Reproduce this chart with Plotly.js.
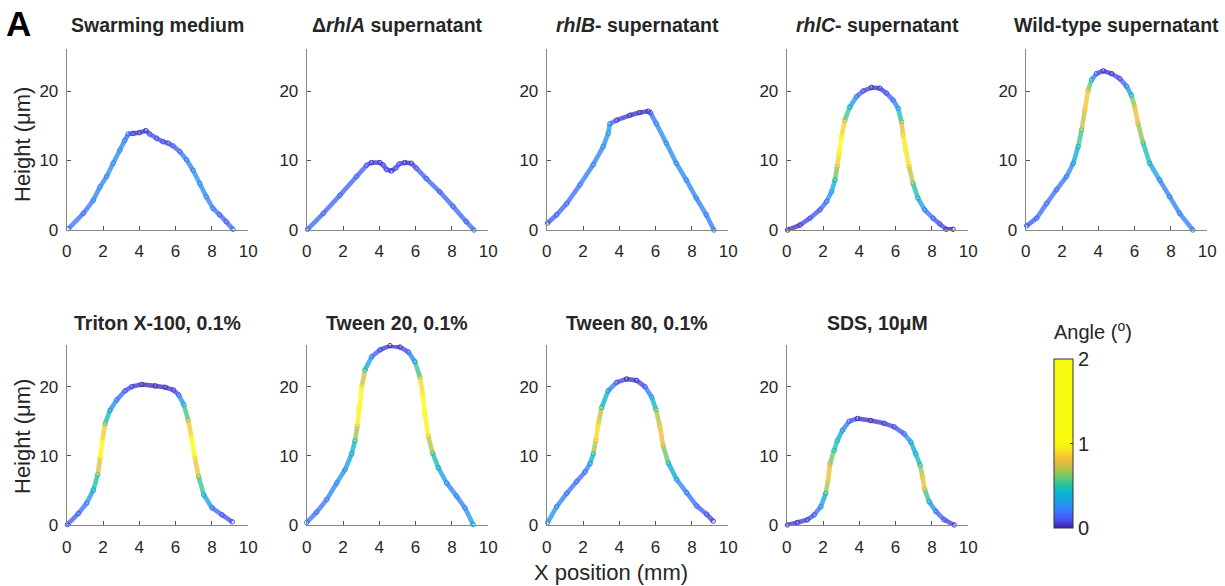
<!DOCTYPE html>
<html>
<head>
<meta charset="utf-8">
<script src="https://cdn.plot.ly/plotly-3.0.1.min.js"></script>
<style>html,body{margin:0;padding:0;background:#fff;}#chart{width:1225px;height:586px;}</style>
</head>
<body>
<div id="chart"></div>
<script>
// ---------- data ----------
var panelTitles = ["Swarming medium", "\u0394<i>rhlA</i> supernatant", "<i>rhlB</i>- supernatant",
  "<i>rhlC</i>- supernatant", "Wild-type supernatant", "Triton X-100, 0.1%", "Tween 20, 0.1%",
  "Tween 80, 0.1%", "SDS, 10\u03bcM"];
var xTicks = [0, 2, 4, 6, 8, 10];
var yTicks = [0, 10, 20];
var cbTicks = [0, 1, 2];

var swarmX = [0.1,0.92,1.47,1.83,2.2,2.56,2.93,3.2,3.39,3.66,4.0,4.36,4.58,4.95,5.31,5.59,5.86,6.23,6.6,6.96,7.33,7.69,8.06,8.42,8.79,9.16];
var swarmY = [0.2,2.4,4.3,6.2,7.7,9.6,11.5,12.9,13.8,13.9,14.0,14.3,13.8,13.2,12.7,12.5,12.1,11.3,10.1,8.6,6.7,4.8,3.1,2.2,1.2,0.1];
var swarmA = [0.2,0.18,0.22,0.25,0.24,0.26,0.26,0.24,0.14,0.05,0.05,0.05,0.12,0.1,0.08,0.08,0.13,0.18,0.22,0.26,0.27,0.26,0.22,0.15,0.15,0.16];

var rhlAX = [0.05,0.92,1.83,2.75,3.3,3.57,4.03,4.21,4.4,4.67,4.9,5.09,5.4,5.77,6.04,6.59,7.33,8.06,8.79,9.21];
var rhlAY = [0.1,2.4,5.0,7.7,9.3,9.7,9.7,9.35,8.7,8.5,8.9,9.5,9.7,9.6,8.9,7.4,5.5,3.4,1.2,0.0];
var rhlAA = [0.16,0.15,0.15,0.15,0.13,0.05,0.03,0.1,0.1,0.03,0.1,0.1,0.03,0.05,0.13,0.15,0.15,0.16,0.16,0.17];

var rhlBX = [0.05,0.55,1.1,1.83,2.56,3.11,3.39,3.48,3.85,4.58,5.13,5.59,5.71,6.04,6.59,7.14,7.69,8.24,8.79,9.21];
var rhlBY = [1.0,2.2,3.8,6.5,9.4,12.0,13.9,15.3,15.8,16.5,16.9,17.1,16.9,15.3,12.5,9.6,7.2,4.6,2.2,0.0];
var rhlBA = [0.12,0.14,0.17,0.2,0.22,0.25,0.3,0.27,0.05,0.04,0.03,0.02,0.1,0.25,0.27,0.26,0.25,0.24,0.22,0.2];

var rhlCX = [0.05,0.73,1.28,1.83,2.2,2.47,2.66,2.78,2.89,3.02,3.2,3.48,3.85,4.21,4.67,5.13,5.49,5.86,6.14,6.32,6.41,6.56,6.74,6.96,7.23,7.6,8.06,8.42,8.79,9.16];
var rhlCY = [0.0,0.7,1.7,2.9,4.1,5.5,7.2,9.1,11.0,13.4,15.8,17.7,19.2,20.0,20.5,20.4,19.7,18.7,17.5,15.6,13.7,11.5,9.1,6.7,4.6,2.9,1.7,0.9,0.1,0.1];
var rhlCA = [0.02,0.05,0.1,0.13,0.2,0.3,0.48,0.75,1.0,1.05,0.7,0.38,0.2,0.1,0.03,0.05,0.12,0.17,0.3,0.65,0.9,1.0,0.85,0.6,0.4,0.25,0.14,0.1,0.05,0.02];

var wildX = [0.05,0.6,1.15,1.7,2.25,2.62,2.89,3.08,3.26,3.44,3.63,3.9,4.27,4.73,5.18,5.55,5.82,6.01,6.19,6.47,6.83,7.38,7.93,8.48,9.21];
var wildY = [0.6,1.7,3.8,5.8,7.7,9.6,12.0,14.4,17.3,20.1,21.6,22.5,22.9,22.5,21.8,20.7,19.4,17.7,15.3,12.5,9.6,7.2,4.8,2.4,0.0];
var wildA = [0.1,0.16,0.2,0.18,0.2,0.28,0.45,0.62,0.85,0.8,0.35,0.12,0.03,0.05,0.1,0.2,0.4,0.85,0.75,0.55,0.4,0.24,0.23,0.23,0.2];

var tritonX = [0.04,0.64,1.1,1.47,1.71,1.84,1.97,2.12,2.39,2.76,3.22,3.59,4.14,4.88,5.43,5.89,6.17,6.45,6.69,6.87,7.05,7.27,7.55,8.01,8.56,9.12];
var tritonY = [0.1,1.7,3.2,5.1,7.3,9.7,12.3,14.7,16.6,18.1,19.4,20.0,20.3,20.1,19.9,19.5,18.8,17.4,15.2,12.8,9.9,7.0,4.4,2.5,1.5,0.5];
var tritonA = [0.1,0.15,0.22,0.35,0.6,0.95,1.1,0.6,0.33,0.2,0.12,0.06,0.02,0.02,0.03,0.06,0.15,0.4,0.7,1.0,1.0,0.65,0.4,0.2,0.1,0.08];

var tw20X = [0.0,0.55,1.1,1.65,2.11,2.48,2.66,2.79,2.9,3.03,3.21,3.58,4.04,4.59,5.14,5.6,5.96,6.24,6.39,6.51,6.7,6.94,7.25,7.71,8.26,8.72,9.17];
var tw20Y = [0.4,1.9,3.7,6.1,8.0,10.3,12.2,14.3,17.0,19.9,22.4,24.3,25.3,25.9,25.7,25.0,23.6,21.4,19.0,16.2,12.8,10.4,8.3,6.1,4.2,2.5,0.1];
var tw20A = [0.2,0.18,0.22,0.25,0.28,0.35,0.5,0.85,1.1,1.0,0.5,0.2,0.08,0.02,0.05,0.12,0.35,0.7,1.1,1.1,0.85,0.55,0.38,0.27,0.22,0.25,0.3];

var tw80X = [0.05,0.55,1.1,1.65,2.11,2.39,2.57,2.7,2.84,3.03,3.39,3.85,4.4,4.95,5.41,5.78,6.02,6.24,6.42,6.7,7.16,7.71,8.26,8.81,9.17];
var tw80Y = [0.4,2.7,4.6,6.3,7.7,8.9,10.3,12.2,14.6,17.0,19.4,20.6,21.1,20.9,20.0,18.5,16.7,14.2,11.4,9.0,6.6,4.7,2.8,1.6,0.6];
var tw80A = [0.3,0.25,0.2,0.18,0.18,0.3,0.5,0.85,0.95,0.5,0.3,0.12,0.03,0.04,0.12,0.3,0.55,0.85,0.75,0.45,0.28,0.2,0.18,0.1,0.05];

var sdsX = [0.04,0.59,1.14,1.51,1.88,2.15,2.28,2.39,2.61,2.79,3.07,3.44,3.9,4.63,5.37,5.92,6.47,6.84,7.11,7.35,7.48,7.61,7.85,8.22,8.68,9.23];
var sdsY = [0.05,0.4,0.8,1.5,2.7,4.6,6.5,8.9,10.8,12.2,13.7,15.0,15.4,15.1,14.7,14.2,13.2,12.0,10.3,8.7,7.0,5.1,3.4,2.0,0.8,0.05];
var sdsA = [0.05,0.05,0.06,0.12,0.25,0.45,0.9,0.7,0.5,0.45,0.3,0.15,0.03,0.03,0.05,0.08,0.15,0.35,0.4,0.5,0.85,0.7,0.35,0.2,0.1,0.05];

var panelX = [swarmX, rhlAX, rhlBX, rhlCX, wildX, tritonX, tw20X, tw80X, sdsX];
var panelY = [swarmY, rhlAY, rhlBY, rhlCY, wildY, tritonY, tw20Y, tw80Y, sdsY];
var panelA = [swarmA, rhlAA, rhlBA, rhlCA, wildA, tritonA, tw20A, tw80A, sdsA];

// parula-like colours over 0..1 degree, then saturated yellow up to 2
var parula = ["#3e26a8","#4852f4","#3a78fd","#1e9de6","#06b4d4","#23c1a5","#67ca6c","#b5c246","#f2bb3b","#f9d924","#f9fb0e"];
// ---------- layout helpers ----------
var W = 1225, H = 586;
var colLeft = [66.7, 306.7, 546.7, 786.7, 1025.7];
var axW = 181.5;
var rowBottom = [230, 525.3];
var rowTop = [49.3, 345];

var cscale = [];
for (var i = 0; i < parula.length; i++) cscale.push([i / (parula.length - 1) * 0.5, parula[i]]);
cscale.push([1, parula[parula.length - 1]]);

function hex2rgb(h){return [parseInt(h.substr(1,2),16),parseInt(h.substr(3,2),16),parseInt(h.substr(5,2),16)];}
function colorAt(v){ // v in degrees, cmin 0 cmax 2
  var t = Math.max(0, Math.min(1, v / 2));
  for (var k = 0; k < cscale.length - 1; k++) {
    if (t <= cscale[k+1][0]) {
      var f = (t - cscale[k][0]) / (cscale[k+1][0] - cscale[k][0] || 1);
      var a = hex2rgb(cscale[k][1]), b = hex2rgb(cscale[k+1][1]);
      return 'rgb(' + [0,1,2].map(function(j){return Math.round(a[j] + (b[j]-a[j])*f);}).join(',') + ')';
    }
  }
  return cscale[cscale.length-1][1];
}

var FONT = 'Liberation Sans, Arial, Helvetica, sans-serif';
var TXT = '#262626';
var traces = [];
var layout = {
  width: W, height: H,
  margin: {l: 0, r: 0, t: 0, b: 0},
  paper_bgcolor: '#fff', plot_bgcolor: 'rgba(0,0,0,0)',
  font: {family: FONT, color: TXT, size: 16},
  showlegend: false,
  coloraxis: {
    cmin: 0, cmax: 2, colorscale: cscale,
    colorbar: {
      x: 1054 / W, xanchor: 'left', xpad: 0,
      y: 1 - 528 / H, yanchor: 'bottom', ypad: 0,
      len: 169 / H, lenmode: 'fraction',
      thickness: 19, thicknessmode: 'pixels',
      outlinewidth: 1, outlinecolor: '#333',
      tickvals: cbTicks, ticktext: cbTicks.map(String),
      ticks: 'inside', ticklen: 3, tickcolor: '#444',
      tickfont: {size: 20, color: TXT, family: FONT}
    }
  },
  annotations: []
};

for (var p = 0; p < 9; p++) {
  var row = p < 5 ? 0 : 1, col = p < 5 ? p : p - 5;
  var xn = p === 0 ? 'xaxis' : 'xaxis' + (p + 1);
  var yn = p === 0 ? 'yaxis' : 'yaxis' + (p + 1);
  var xr = p === 0 ? 'x' : 'x' + (p + 1);
  var yr = p === 0 ? 'y' : 'y' + (p + 1);
  var x0 = colLeft[col], x1 = x0 + axW;
  layout[xn] = {
    domain: [x0 / W, x1 / W], range: [0, 10], anchor: yr,
    tickvals: xTicks, ticks: 'inside', ticklen: 4, tickcolor: '#555',
    showline: true, linecolor: '#888', linewidth: 1,
    showgrid: false, zeroline: false, fixedrange: true,
    tickfont: {size: 17, color: TXT, family: FONT}, ticklabelstandoff: 6
  };
  layout[yn] = {
    domain: [1 - rowBottom[row] / H, 1 - rowTop[row] / H], range: [0, 26], anchor: xr,
    tickvals: yTicks, ticks: 'inside', ticklen: 4, tickcolor: '#555',
    showline: true, linecolor: '#888', linewidth: 1,
    showgrid: false, zeroline: false, fixedrange: true,
    tickfont: {size: 17, color: TXT, family: FONT}, ticklabelstandoff: 4
  };
  var X = panelX[p], Y = panelY[p], A = panelA[p];
  for (var s = 0; s < X.length - 1; s++) {
    traces.push({
      type: 'scatter', mode: 'lines', x: [X[s], X[s+1]], y: [Y[s], Y[s+1]],
      xaxis: xr, yaxis: yr, hoverinfo: 'skip', showlegend: false,
      line: {color: colorAt((A[s] + A[s+1]) / 2), width: 4.6}, opacity: 0.78
    });
  }
  traces.push({
    type: 'scatter', mode: 'markers', x: X, y: Y, xaxis: xr, yaxis: yr,
    cliponaxis: false, showlegend: false,
    marker: {symbol: 'circle-open', size: 4.5, color: A, coloraxis: 'coloraxis', line: {width: 1}}
  });
  layout.annotations.push({
    xref: 'paper', yref: 'paper', x: (x0 + axW / 2) / W, y: 1 - (row === 0 ? 25 : 323) / H,
    xanchor: 'center', yanchor: 'middle', showarrow: false,
    text: '<b>' + panelTitles[p] + '</b>', font: {size: 19.5, color: TXT, family: FONT}
  });
}

// axis labels, panel letter and colorbar title
layout.annotations.push({xref:'paper',yref:'paper',x:22/W,y:1-145/H,xanchor:'center',yanchor:'middle',showarrow:false,
  textangle:-90,text:'Height (\u03bcm)',font:{size:22,color:TXT,family:FONT}});
layout.annotations.push({xref:'paper',yref:'paper',x:22/W,y:1-437/H,xanchor:'center',yanchor:'middle',showarrow:false,
  textangle:-90,text:'Height (\u03bcm)',font:{size:22,color:TXT,family:FONT}});
layout.annotations.push({xref:'paper',yref:'paper',x:611/W,y:1-572/H,xanchor:'center',yanchor:'middle',showarrow:false,
  text:'X position (mm)',font:{size:22,color:TXT,family:FONT}});
layout.annotations.push({xref:'paper',yref:'paper',x:4/W,y:1-23/H,xanchor:'left',yanchor:'middle',showarrow:false,
  text:'<b>A</b>',font:{size:35,color:'#000',family:FONT}});
layout.annotations.push({xref:'paper',yref:'paper',x:1093/W,y:1-330/H,xanchor:'center',yanchor:'middle',showarrow:false,
  text:'Angle (<sup>o</sup>)',font:{size:20,color:TXT,family:FONT}});

Plotly.newPlot('chart', traces, layout, {displayModeBar: false, staticPlot: true});
</script>
</body>
</html>
